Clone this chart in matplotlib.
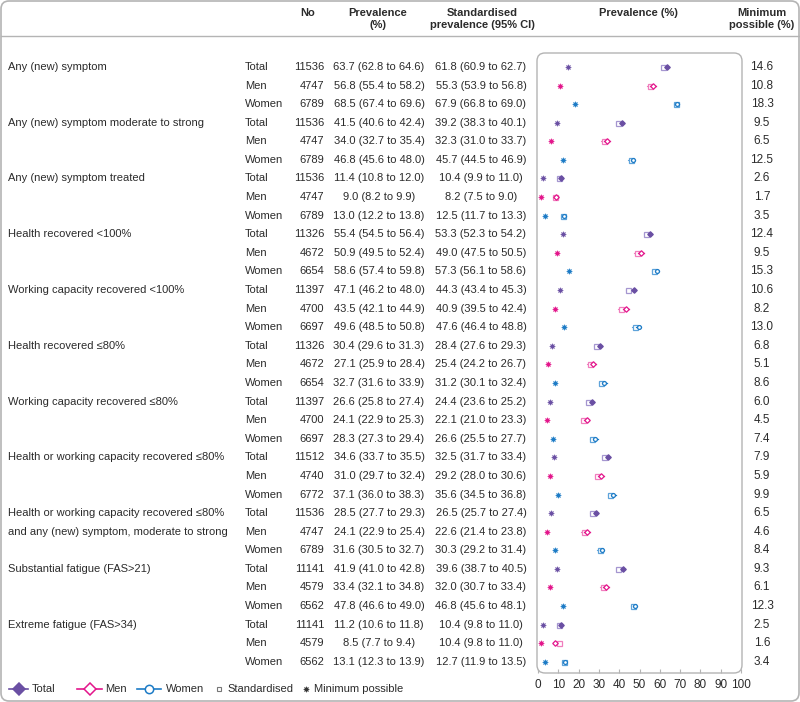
import matplotlib
matplotlib.use("Agg")
import matplotlib.pyplot as plt
from matplotlib.lines import Line2D
from matplotlib.patches import FancyBboxPatch
from matplotlib.transforms import blended_transform_factory

plt.rcParams['font.family'] = ['Liberation Sans', 'DejaVu Sans']
plt.rcParams['font.size'] = 8

# ---- data ----
groups = ["Any (new) symptom",
          "Any (new) symptom moderate to strong",
          "Any (new) symptom treated",
          "Health recovered <100%",
          "Working capacity recovered <100%",
          "Health recovered \u226480%",
          "Working capacity recovered \u226480%",
          "Health or working capacity recovered \u226480%",
          "Health or working capacity recovered \u226480%\nand any (new) symptom, moderate to strong",
          "Substantial fatigue (FAS>21)",
          "Extreme fatigue (FAS>34)"]
sexes = ["Total", "Men", "Women"]

n_obs = [11536, 4747, 6789, 11536, 4747, 6789, 11536, 4747, 6789,
         11326, 4672, 6654, 11397, 4700, 6697, 11326, 4672, 6654,
         11397, 4700, 6697, 11512, 4740, 6772, 11536, 4747, 6789,
         11141, 4579, 6562, 11141, 4579, 6562]
prev = [63.7, 56.8, 68.5, 41.5, 34.0, 46.8, 11.4, 9.0, 13.0,
        55.4, 50.9, 58.6, 47.1, 43.5, 49.6, 30.4, 27.1, 32.7,
        26.6, 24.1, 28.3, 34.6, 31.0, 37.1, 28.5, 24.1, 31.6,
        41.9, 33.4, 47.8, 11.2, 8.5, 13.1]
prev_lo = [62.8, 55.4, 67.4, 40.6, 32.7, 45.6, 10.8, 8.2, 12.2,
           54.5, 49.5, 57.4, 46.2, 42.1, 48.5, 29.6, 25.9, 31.6,
           25.8, 22.9, 27.3, 33.7, 29.7, 36.0, 27.7, 22.9, 30.5,
           41.0, 32.1, 46.6, 10.6, 7.7, 12.3]
prev_hi = [64.6, 58.2, 69.6, 42.4, 35.4, 48.0, 12.0, 9.9, 13.8,
           56.4, 52.4, 59.8, 48.0, 44.9, 50.8, 31.3, 28.4, 33.9,
           27.4, 25.3, 29.4, 35.5, 32.4, 38.3, 29.3, 25.4, 32.7,
           42.8, 34.8, 49.0, 11.8, 9.4, 13.9]
std = [61.8, 55.3, 67.9, 39.2, 32.3, 45.7, 10.4, 8.2, 12.5,
       53.3, 49.0, 57.3, 44.3, 40.9, 47.6, 28.4, 25.4, 31.2,
       24.4, 22.1, 26.6, 32.5, 29.2, 35.6, 26.5, 22.6, 30.3,
       39.6, 32.0, 46.8, 10.4, 10.4, 12.7]
std_lo = [60.9, 53.9, 66.8, 38.3, 31.0, 44.5, 9.9, 7.5, 11.7,
          52.3, 47.5, 56.1, 43.4, 39.5, 46.4, 27.6, 24.2, 30.1,
          23.6, 21.0, 25.5, 31.7, 28.0, 34.5, 25.7, 21.4, 29.2,
          38.7, 30.7, 45.6, 9.8, 9.8, 11.9]
std_hi = [62.7, 56.8, 69.0, 40.1, 33.7, 46.9, 11.0, 9.0, 13.3,
          54.2, 50.5, 58.6, 45.3, 42.4, 48.8, 29.3, 26.7, 32.4,
          25.2, 23.3, 27.7, 33.4, 30.6, 36.8, 27.4, 23.8, 31.4,
          40.5, 33.4, 48.1, 11.0, 11.0, 13.5]
min_poss = [14.6, 10.8, 18.3, 9.5, 6.5, 12.5, 2.6, 1.7, 3.5,
            12.4, 9.5, 15.3, 10.6, 8.2, 13.0, 6.8, 5.1, 8.6,
            6.0, 4.5, 7.4, 7.9, 5.9, 9.9, 6.5, 4.6, 8.4,
            9.3, 6.1, 12.3, 2.5, 1.6, 3.4]

# styles per sex
col = {"Total": "#6a4fa3", "Men": "#e3158b", "Women": "#1c7bc6"}
light = {"Total": "#a596d0", "Men": "#f07dbd", "Women": "#5ea3da"}
mk = {"Total": "D", "Men": "D", "Women": "o"}
face = {"Total": "#6a4fa3", "Men": "white", "Women": "white"}
txt = "#2b2b2b"
grey = "#b4b4b4"

W, H = 800, 702
fig = plt.figure(figsize=(W / 100, H / 100), dpi=100)


def fx(x):
    return x / W


def fy(y):
    return 1 - y / H


# outer frame and header rule
fig.add_artist(FancyBboxPatch((0.01, 0.01), 7.98, 7.0,
                              boxstyle="round,pad=0,rounding_size=0.08",
                              transform=fig.dpi_scale_trans, fill=False,
                              edgecolor=grey, linewidth=1.2))
fig.add_artist(Line2D([fx(1), fx(799)], [fy(36), fy(36)],
                      transform=fig.transFigure, color=grey, linewidth=1))

# forest panel
ax = fig.add_axes([fx(537), fy(673), 205 / W, 620 / H])
ax.set_xlim(-0.5, 100.5)
ax.set_ylim(32.6, -0.75)
for s in ax.spines.values():
    s.set_visible(False)
ax.set_yticks([])
ax.set_xticks(range(0, 101, 10))
ax.tick_params(axis='x', direction='in', length=3, color=grey, pad=4,
               labelsize=8.5, labelcolor=txt)
fig.add_artist(FancyBboxPatch((5.37, 0.29), 2.05, 6.20,
                              boxstyle="round,pad=0,rounding_size=0.08",
                              transform=fig.dpi_scale_trans, fill=False,
                              edgecolor=grey, linewidth=1.0))

for i in range(len(prev)):
    s = sexes[i % 3]
    ax.plot([std_lo[i], std_hi[i]], [i, i], color=light[s], lw=0.8)
    ax.plot(std[i], i, marker='s', ms=3.6, mfc='white', mec=light[s], mew=0.9)
    ax.plot([prev_lo[i], prev_hi[i]], [i, i], color=col[s], lw=0.9)
    ax.plot(prev[i], i, marker=mk[s], ms=2.8, mfc=face[s], mec=col[s], mew=0.9)
    ax.plot(min_poss[i], i, marker=(8, 1, 0), ms=4.2, color=col[s], mew=0.3)

# table text, rows on the panel's data scale
tr = blended_transform_factory(fig.transFigure, ax.transData)
for g, label in enumerate(groups):
    lines = label.split("\n")
    for k, ln in enumerate(lines):
        fig.text(fx(8), g * 3 + k, ln, transform=tr, va='center', ha='left', color=txt)
for i in range(len(prev)):
    fig.text(fx(245), i, sexes[i % 3], transform=tr, va='center', ha='left', color=txt)
    fig.text(fx(324), i, str(n_obs[i]), transform=tr, va='center', ha='right', color=txt)
    fig.text(fx(379), i, f"{prev[i]:.1f} ({prev_lo[i]:.1f} to {prev_hi[i]:.1f})",
             transform=tr, va='center', ha='center', color=txt)
    fig.text(fx(481), i, f"{std[i]:.1f} ({std_lo[i]:.1f} to {std_hi[i]:.1f})",
             transform=tr, va='center', ha='center', color=txt)
    fig.text(fx(762), i, f"{min_poss[i]:.1f}", transform=tr, va='center',
             ha='center', color=txt, fontsize=8.5)

# headers
hdr = dict(ha='center', va='center', fontweight='bold', color=txt)
fig.text(fx(308), fy(13), "No", **hdr)
fig.text(fx(378), fy(13), "Prevalence", **hdr)
fig.text(fx(378), fy(25), "(%)", **hdr)
fig.text(fx(482), fy(13), "Standardised", **hdr)
fig.text(fx(482), fy(25), "prevalence (95% CI)", **hdr)
fig.text(fx(638), fy(13), "Prevalence (%)", **hdr)
fig.text(fx(762), fy(13), "Minimum", **hdr)
fig.text(fx(762), fy(25), "possible (%)", **hdr)

# legend drawn by hand along the bottom
ly = fy(689)
def leg_line(x0, x1, s):
    fig.add_artist(Line2D([fx(x0), fx(x1)], [ly, ly], transform=fig.transFigure,
                          color=col[s], lw=1.2))
    fig.add_artist(Line2D([fx((x0 + x1) / 2)], [ly], transform=fig.transFigure,
                          marker=mk[s], ms=6 if s != "Women" else 6, mfc=face[s],
                          mec=col[s], mew=1.1, linestyle='none'))

leg_line(9, 28, "Total")
fig.text(fx(32), ly, "Total", va='center', ha='left', color=txt)
leg_line(77, 102, "Men")
fig.text(fx(105), ly, "Men", va='center', ha='left', color=txt)
leg_line(137, 161, "Women")
fig.text(fx(166), ly, "Women", va='center', ha='left', color=txt)
fig.add_artist(Line2D([fx(219)], [ly], transform=fig.transFigure, marker='s',
                      ms=3.5, mfc='white', mec='#777777', mew=0.8, linestyle='none'))
fig.text(fx(227), ly, "Standardised", va='center', ha='left', color=txt)
fig.add_artist(Line2D([fx(306)], [ly], transform=fig.transFigure, marker=(8, 1, 0),
                      ms=4.2, color='#333333', mew=0.3, linestyle='none'))
fig.text(fx(314), ly, "Minimum possible", va='center', ha='left', color=txt)

fig.savefig("out.png", dpi=100)
